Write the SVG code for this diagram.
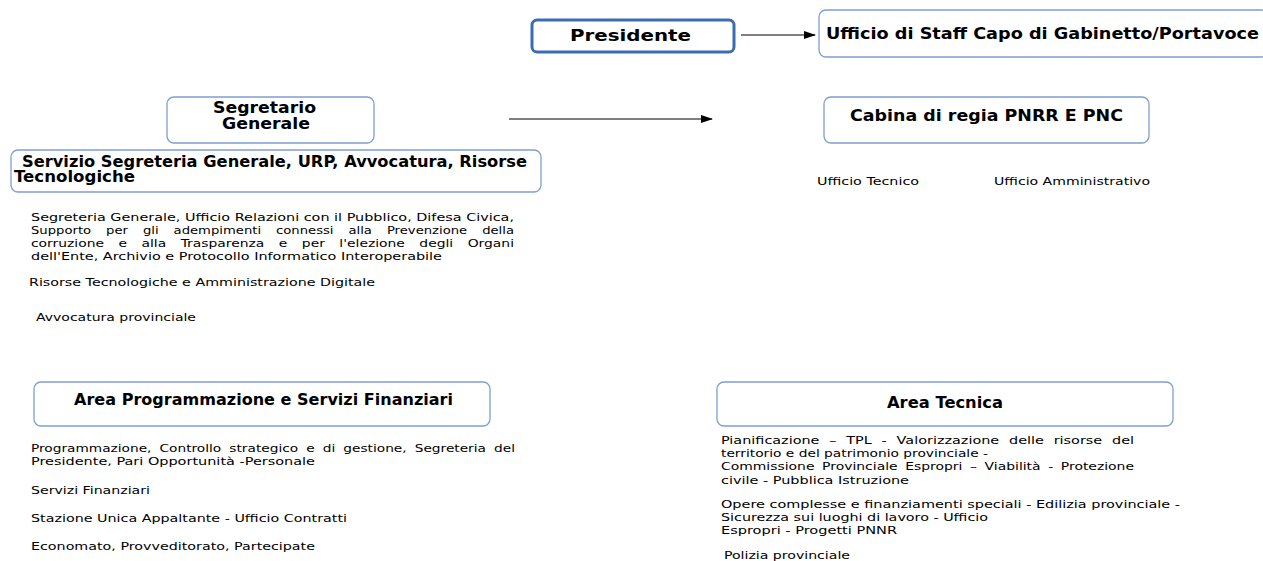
<svg xmlns="http://www.w3.org/2000/svg" width="1263" height="561" viewBox="0 0 1263 561">
<defs>
<marker id="arr" markerWidth="12" markerHeight="10" refX="11" refY="5" orient="auto" markerUnits="userSpaceOnUse">
<path d="M0,1 L12,5 L0,9 Z" fill="#000"/>
</marker>
<style>
.box{fill:#fff;stroke:#7f9fd0;stroke-width:1.3}
.main{fill:#fff;stroke:#3e6cb0;stroke-width:3}
.h{font-family:"DejaVu Sans",Verdana,sans-serif;font-weight:bold;font-size:15px;fill:#000}
.t{font-family:"DejaVu Sans",Verdana,sans-serif;font-size:11px;fill:#000}
.conn{stroke:#000;stroke-width:1;fill:none}
</style>
</defs>
<rect width="1263" height="561" fill="#fff"/>
<g id="connectors">
<line class="conn" x1="741" y1="35" x2="815" y2="35" marker-end="url(#arr)"/>
<line class="conn" x1="509" y1="119" x2="712" y2="119" marker-end="url(#arr)"/>
</g>
<g id="presidente">
<rect class="main" x="532" y="20" width="202" height="32" rx="5"/>
<text class="h" x="570" y="41" font-size="16" textLength="121" lengthAdjust="spacingAndGlyphs">Presidente</text>
</g>
<g id="staff">
<rect class="box" x="819" y="10" width="450" height="47" rx="7"/>
<text class="h" x="826" y="39" textLength="433" lengthAdjust="spacingAndGlyphs">Ufficio di Staff Capo di Gabinetto/Portavoce</text>
</g>
<g id="segretario">
<rect class="box" x="167" y="97" width="207" height="46" rx="7"/>
<text class="h" x="213" y="113" font-size="13.5" textLength="103" lengthAdjust="spacingAndGlyphs">Segretario</text>
<text class="h" x="222" y="129" font-size="13.5" textLength="88" lengthAdjust="spacingAndGlyphs">Generale</text>
</g>
<g id="cabina">
<rect class="box" x="824" y="97" width="325" height="46" rx="7"/>
<text class="h" x="850" y="121" textLength="273" lengthAdjust="spacingAndGlyphs">Cabina di regia PNRR E PNC</text>
<text class="t" x="817" y="185" textLength="102" lengthAdjust="spacingAndGlyphs">Ufficio Tecnico</text>
<text class="t" x="994" y="185" textLength="156" lengthAdjust="spacingAndGlyphs">Ufficio Amministrativo</text>
</g>
<g id="servizio">
<rect class="box" x="11" y="150" width="530" height="42" rx="7"/>
<text class="h" x="22" y="166.5" font-size="13" textLength="505" lengthAdjust="spacingAndGlyphs">Servizio Segreteria Generale, URP, Avvocatura, Risorse</text>
<text class="h" x="14" y="182" font-size="13" textLength="121" lengthAdjust="spacingAndGlyphs">Tecnologiche</text>
<text class="t" x="31" y="221" textLength="483" lengthAdjust="spacingAndGlyphs">Segreteria Generale, Ufficio Relazioni con il Pubblico, Difesa Civica,</text>
<text class="t" x="31" y="234" word-spacing="9" textLength="483" lengthAdjust="spacingAndGlyphs">Supporto per gli adempimenti connessi alla Prevenzione della</text>
<text class="t" x="31" y="247" word-spacing="8" textLength="483" lengthAdjust="spacingAndGlyphs">corruzione e alla Trasparenza e per l'elezione degli Organi</text>
<text class="t" x="31" y="260" textLength="411" lengthAdjust="spacingAndGlyphs">dell'Ente, Archivio e Protocollo Informatico Interoperabile</text>
<text class="t" x="29" y="286" textLength="346" lengthAdjust="spacingAndGlyphs">Risorse Tecnologiche e Amministrazione Digitale</text>
<text class="t" x="36" y="321" textLength="160" lengthAdjust="spacingAndGlyphs">Avvocatura provinciale</text>
</g>
<g id="area-programmazione">
<rect class="box" x="34" y="382" width="456" height="44" rx="7"/>
<text class="h" x="74" y="405" textLength="379" lengthAdjust="spacingAndGlyphs">Area Programmazione e Servizi Finanziari</text>
<text class="t" x="31" y="452" word-spacing="3" textLength="484" lengthAdjust="spacingAndGlyphs">Programmazione, Controllo strategico e di gestione, Segreteria del</text>
<text class="t" x="31" y="465" textLength="284" lengthAdjust="spacingAndGlyphs">Presidente, Pari Opportunità -Personale</text>
<text class="t" x="31" y="494" textLength="119" lengthAdjust="spacingAndGlyphs">Servizi Finanziari</text>
<text class="t" x="31" y="522" textLength="316" lengthAdjust="spacingAndGlyphs">Stazione Unica Appaltante - Ufficio Contratti</text>
<text class="t" x="31" y="550" textLength="284" lengthAdjust="spacingAndGlyphs">Economato, Provveditorato, Partecipate</text>
</g>
<g id="area-tecnica">
<rect class="box" x="717" y="382" width="456" height="44" rx="7"/>
<text class="h" x="887" y="408" textLength="116" lengthAdjust="spacingAndGlyphs">Area Tecnica</text>
<text class="t" x="721" y="444" word-spacing="4" textLength="413" lengthAdjust="spacingAndGlyphs">Pianificazione – TPL - Valorizzazione delle risorse del</text>
<text class="t" x="721" y="457" textLength="267" lengthAdjust="spacingAndGlyphs">territorio e del patrimonio provinciale -</text>
<text class="t" x="721" y="470" word-spacing="2.5" textLength="413" lengthAdjust="spacingAndGlyphs">Commissione Provinciale Espropri – Viabilità - Protezione</text>
<text class="t" x="721" y="484" textLength="188" lengthAdjust="spacingAndGlyphs">civile - Pubblica Istruzione</text>
<text class="t" x="721" y="508" textLength="459" lengthAdjust="spacingAndGlyphs">Opere complesse e finanziamenti speciali - Edilizia provinciale -</text>
<text class="t" x="721" y="521" textLength="267" lengthAdjust="spacingAndGlyphs">Sicurezza sui luoghi di lavoro - Ufficio</text>
<text class="t" x="721" y="534" textLength="176" lengthAdjust="spacingAndGlyphs">Espropri - Progetti PNNR</text>
<text class="t" x="724" y="559" textLength="126" lengthAdjust="spacingAndGlyphs">Polizia provinciale</text>
</g>
</svg>
